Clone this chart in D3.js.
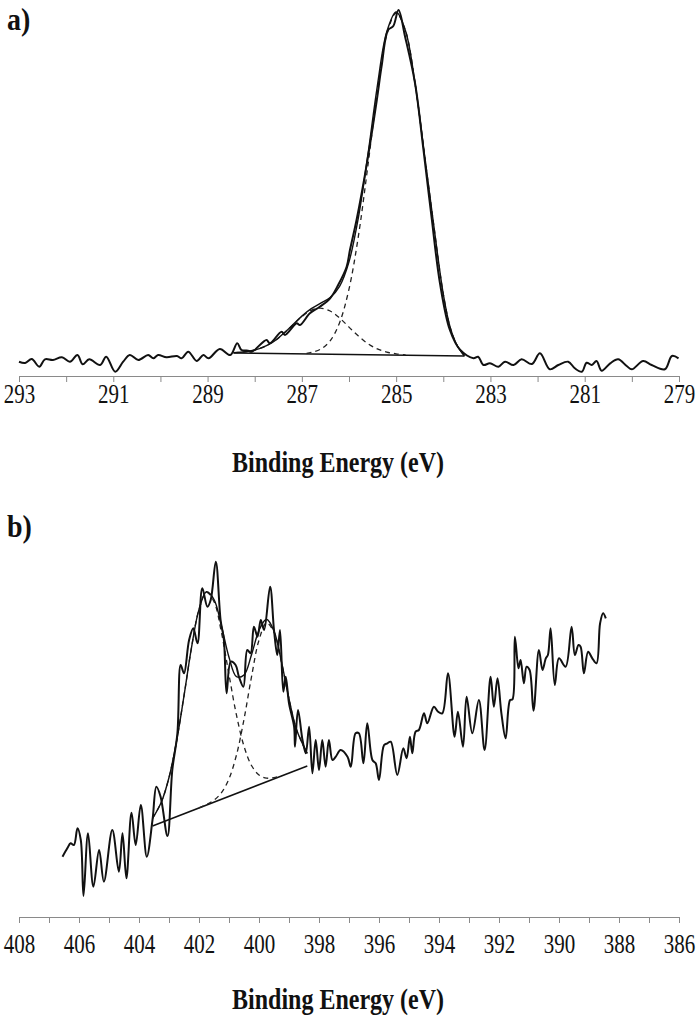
<!DOCTYPE html>
<html>
<head>
<meta charset="utf-8">
<script src="https://cdn.jsdelivr.net/npm/d3@7/dist/d3.min.js"></script>
<style>
body { margin: 0; background: #fff; }
.axis path, .axis line { stroke: #8a8a8a; }
.axis text { font-family: "Liberation Serif", "Times New Roman", serif; font-size: 21px; fill: #111; }
.title { font-family: "Liberation Serif", "Times New Roman", serif; font-weight: bold; font-size: 24px; fill: #111; }
.panel { font-family: "Liberation Serif", "Times New Roman", serif; font-weight: bold; font-size: 28px; fill: #111; }
.raw, .fit, .base { fill: none; stroke: #111; }
.raw { stroke-width: 2; }
.fit { stroke-width: 1.4; }
.comp { fill: none; stroke: #222; stroke-width: 1.3; stroke-dasharray: 5,4; }
.base { stroke-width: 1.6; }
</style>
</head>
<body>
<svg width="700" height="1019"></svg>
<script>
// a) C 1s region  [binding energy eV, intensity a.u.]
var rawC = [[293.00,14.3],[292.87,13],[292.73,17],[292.57,9.3],[292.45,16.7],[292.28,16],[292.09,18.7],
  [291.92,14.3],[291.76,21],[291.65,11.7],[291.51,16.7],[291.28,11],[291.15,19.3],[290.96,4.3],[290.79,14.3],
  [290.65,21],[290.47,16],[290.26,21],[290.15,17.7],[290.05,21],[289.87,18.7],[289.65,20],[289.55,17.7],
  [289.41,24.3],[289.23,15],[289.09,21],[288.98,17.7],[288.74,27],[288.52,21],[288.37,32.7],[288.28,26],
  [288.14,25.3],[288.06,24.3],[287.75,36],[287.68,32.7],[287.43,44.3],[287.36,41],[287.11,52.7],[287.04,51],
  [286.83,62.7],[286.62,69.3],[286.40,77.7],[286.23,91],[286.05,109.3],[285.98,126],[285.84,156],[285.62,212.7],
  [285.41,276],[285.31,309.3],[285.17,346],[285.06,350],[284.95,366],[284.81,339.3],[284.60,293],[284.42,226],
  [284.25,159.3],[284.07,92.7],[283.86,46],[283.64,26],[283.36,17.7],[283.26,19.3],[283.15,11],[283.01,12.7],
  [282.83,9.3],[282.69,14.3],[282.51,11],[282.34,16.7],[282.12,12],[281.95,22.7],[281.74,6.7],[281.56,11],
  [281.35,14.3],[281.21,7.7],[281.06,4.3],[280.96,13.3],[280.85,11],[280.75,15],[280.64,5.3],[280.46,12.7],
  [280.29,16.7],[280.11,10],[280.00,6.7],[279.76,15],[279.58,11],[279.30,6.7],[279.15,20],[279.01,17.7]];

var envelopeC = [[288.45,23.4],[288.2,24.2],[287.9,27.3],[287.6,34.3],[287.3,46.3],[287.0,59.9],[286.8,67.3],
  [286.6,72.9],[286.4,78.4],[286.2,89.7],[286.0,114.3],[285.8,158.6],[285.6,221.1],[285.4,289.7],[285.2,344],
  [285.0,364],[284.8,345],[284.6,293],[284.4,222],[284.2,150],[284.0,82],[283.85,48],[283.7,30],[283.55,20]];

var peakC1 = [[286.9,22.5],[286.8,23.6],[286.6,26.9],[286.4,35.2],[286.2,53.3],[286.0,86.9],[285.8,140.1],
  [285.6,210],[285.4,283.7],[285.2,341.1],[285.0,363],[284.8,345],[284.6,293],[284.4,222],[284.2,150],
  [284.0,82],[283.85,48],[283.7,30],[283.55,20]];

var peakC2 = [[288.45,23.4],[288.2,24.2],[287.9,27.3],[287.6,34.3],[287.3,46.1],[287.0,59.4],[286.8,65.7],
  [286.61,67.9],[286.4,65],[286.2,58],[286.0,48.9],[285.8,39.9],[285.6,32.4],[285.4,27.1],[285.2,23.9],
  [285.0,22.2],[284.8,21.2]];

var baselineC = [[288.45,23],[283.55,20]];

// b) N 1s region
var rawN = [[406.55,60.3],[406.39,68.7],[406.28,73.7],[406.17,72],[406.05,88.7],[405.94,77],[405.85,21],
  [405.70,83.7],[405.52,30.3],[405.33,67],[405.17,35.3],[404.89,87],[404.67,45.3],[404.55,83.7],[404.42,38.7],
  [404.25,104.3],[404.11,72],[403.94,112],[403.74,60.3],[403.55,97],[403.42,130.3],[403.28,120.3],[403.05,81],
  [402.89,147],[402.72,183.7],[402.61,252],[402.50,243.7],[402.33,277],[402.19,288.7],[402.05,273.7],
  [401.89,328.7],[401.72,310.3],[401.61,317],[401.44,355.3],[401.28,297],[401.17,277],[401.08,223.7],
  [400.94,255.3],[400.78,252],[400.67,240.3],[400.52,230.3],[400.39,267],[400.28,263.7],[400.17,290.3],
  [400.05,280.3],[399.94,297],[399.83,287],[399.63,330.3],[399.50,287],[399.39,262],[399.30,287],[399.19,225.3],
  [399.11,240.3],[399.00,213.7],[398.83,190.3],[398.80,170.3],[398.70,207],[398.55,177],[398.44,163.7],
  [398.33,190.3],[398.22,143.7],[398.11,177],[398.00,147],[397.89,177],[397.78,150.3],[397.67,177],[397.55,157],
  [397.44,160.3],[397.28,167],[397.05,160.3],[396.94,150.3],[396.78,183.7],[396.67,183.7],[396.52,153.7],
  [396.39,193.7],[396.22,157],[396.11,153.7],[396.00,137],[395.83,172],[395.72,173.7],[395.61,175.3],
  [395.39,142],[395.19,168.7],[395.08,158.7],[394.97,180.3],[394.89,163.7],[394.78,185.3],[394.67,187],
  [394.50,203.7],[394.39,193.7],[394.17,210.3],[394.03,205.3],[393.89,203.7],[393.70,243.7],[393.48,180.3],
  [393.37,205.3],[393.20,170.3],[393.08,220.3],[392.89,183.7],[392.67,217],[392.48,167],[392.28,240.3],
  [392.17,210.3],[392.05,238.7],[391.92,203.7],[391.78,178.7],[391.63,217],[391.55,217.7],[391.47,280.3],
  [391.35,248.7],[391.28,257],[391.17,233.7],[391.08,250.3],[390.98,247],[390.85,206.3],[390.67,267],
  [390.55,247],[390.44,258.7],[390.37,262],[390.28,288.7],[390.14,232],[390.00,258.7],[389.78,250.3],
  [389.58,290.3],[389.47,262],[389.35,272],[389.28,270.3],[389.17,243.7],[389.03,265.3],[388.89,258.7],
  [388.75,253.7],[388.63,293.7],[388.53,303.7],[388.44,298.7]];

var envelopeN = [[403.55,98.5],[403.25,115.3],[403.0,139.5],[402.75,175.4],[402.5,221.2],[402.25,269.3],
  [402.0,307.6],[401.75,325.2],[401.5,317.5],[401.25,290.9],[401.0,259.8],[400.75,240.3],[400.5,242],
  [400.25,262.2],[400.0,286.6],[399.75,297.7],[399.5,286],[399.25,255.2],[399.0,218.2],[398.75,187.5],
  [398.39,163.6]];

var peakN1 = [[403.55,98.5],[403.25,115.3],[403.0,139.5],[402.75,175.4],[402.5,221.2],[402.25,269.3],
  [402.0,307.5],[401.75,324.6],[401.5,315.4],[401.25,284.2],[401.0,242.3],[400.75,201.8],[400.5,170.8],
  [400.25,151.5],[400.0,142],[399.75,138.9],[399.5,139.4],[399.25,141.4]];

var peakN2 = [[402.0,109.1],[401.75,112.5],[401.5,116.9],[401.25,124.4],[401.0,138.2],[400.75,162.1],
  [400.5,197.7],[400.25,240.1],[400.0,276.9],[399.75,294],[399.5,284.7],[399.25,254.8],[399.0,218.1],
  [398.75,187.5],[398.39,163.6]];

var baselineN = [[403.55,91],[398.39,151]];

var ticksC = d3.range(293, 278, -1);
var ticksN = d3.range(408, 385, -1);

var svg = d3.select("svg");
var stretch = 1.25; // lettering in the figure is drawn taller than wide

function panel(opt) {
  var x = d3.scaleLinear().domain(opt.xDomain).range([19, 679]);
  var y = d3.scaleLinear().domain([0, opt.yMax]).range([opt.axisY, opt.axisY - opt.yMax]);

  var line = d3.line()
    .x(function(d) { return x(d[0]); })
    .y(function(d) { return y(d[1]); })
    .curve(d3.curveCatmullRom.alpha(0.5));
  var straight = d3.line()
    .x(function(d) { return x(d[0]); })
    .y(function(d) { return y(d[1]); });

  var ax = svg.append("g")
    .attr("class", "axis")
    .attr("transform", "translate(0," + opt.axisY + ")")
    .call(d3.axisBottom(x)
      .tickValues(opt.ticks)
      .tickSize(6)
      .tickSizeOuter(0)
      .tickFormat(function(d) { return (opt.xDomain[0] - d) % 2 === 0 ? d : ""; }));

  ax.selectAll(".tick text")
    .attr("y", null).attr("dy", null)
    .attr("transform", "translate(0," + opt.tickLabelY + ") scale(1," + stretch + ")");

  svg.append("path").datum(opt.base).attr("class", "base").attr("d", straight);
  opt.comps.forEach(function(c) {
    svg.append("path").datum(c).attr("class", "comp").attr("d", line);
  });
  svg.append("path").datum(opt.envelope).attr("class", "fit").attr("d", line);
  svg.append("path").datum(opt.raw).attr("class", "raw").attr("d", line);

  svg.append("text").attr("class", "title")
    .attr("transform", "translate(338," + opt.titleY + ") scale(1," + stretch + ")")
    .attr("text-anchor", "middle")
    .text("Binding Energy (eV)");

  svg.append("text").attr("class", "panel")
    .attr("transform", "translate(7," + opt.labelY + ") scale(1,1.1)")
    .text(opt.label);
}

panel({ xDomain: [293, 279], ticks: ticksC, axisY: 376, yMax: 376, tickLabelY: 27,
  raw: rawC, envelope: envelopeC, comps: [peakC1, peakC2], base: baselineC,
  titleY: 472, label: "a)", labelY: 30 });

panel({ xDomain: [408, 386], ticks: ticksN, axisY: 917, yMax: 380, tickLabelY: 36,
  raw: rawN, envelope: envelopeN, comps: [peakN1, peakN2], base: baselineN,
  titleY: 1009, label: "b)", labelY: 537 });
</script>
</body>
</html>
